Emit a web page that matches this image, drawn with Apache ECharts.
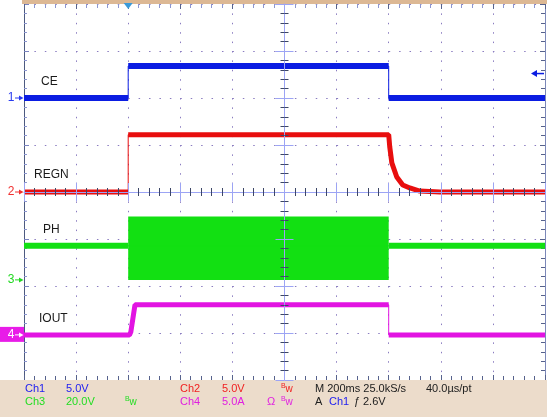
<!DOCTYPE html>
<html><head><meta charset="utf-8">
<script src="https://cdn.jsdelivr.net/npm/echarts@6/dist/echarts.min.js"></script>
<style>html,body{margin:0;padding:0;background:#fff;overflow:hidden}#c{width:547px;height:417px}</style>
</head><body><div id="c"></div>
<script>
// ---- time axis (ms), 200 ms/div, trigger at t = 0
const timeMin = -400, timeMax = 1600, timeStep = 200;
// ---- CE (Ch1, volts)
const ceT = [-400, 0, 0, 1000, 1000, 1600];
const ceV = [0, 0, 3.4, 3.4, 0, 0];
// ---- REGN (Ch2, volts)
const regnT = [-400, 0, 0, 1000, 1004, 1012, 1031, 1054, 1081, 1119, 1196, 1600];
const regnV = [0, 0, 6.1, 6.1, 4.8, 3.1, 1.6, 0.75, 0.43, 0.1, 0, 0];
// ---- PH (Ch3, volts): idle level, and switching window (time span, min/max)
const phT = [-400, 0, 1000, 1600];
const phV = [14.5, 14.5, 14.5, 14.5];
const phSwitchT = [0, 1000];
const phSwitchV = [0, 27];
// ---- IOUT (Ch4, amps)
const ioutT = [-400, 5, 10, 26, 1000, 1000, 1600];
const ioutV = [0, 0, 0.3, 3.2, 3.2, 0, 0];
// ---- scope channel settings
const chNames = ['CE', 'REGN', 'PH', 'IOUT'];
const chScale = [5, 5, 20, 5];          // units per division
const chOffset = [2.0, 0, -1.87, -3.04]; // ground position (divisions)
const chColor = ['#0b1de2', '#e80e0e', '#12e012', '#e214e2'];
const chWidth = [6, 5, 6, 5];
const trigLevel = 2.6; // V on Ch1

const chT = [ceT, regnT, phT, ioutT];
const chV = [ceV, regnV, phV, ioutV];

function toDiv(ch, v) { return chOffset[ch] + v / chScale[ch]; }
function fullData(ch) { return chT[ch].map((t, i) => [t, toDiv(ch, chV[ch][i])]); }
function thickData(ch) {
  const out = [];
  const T = chT[ch], V = chV[ch];
  for (let i = 0; i < T.length; i++) {
    if (i > 0) {
      const vertical = T[i] === T[i - 1];
      const inSwitch = ch === 2 && T[i - 1] >= phSwitchT[0] && T[i] <= phSwitchT[1];
      if (vertical || inSwitch) out.push([T[i], null]);
    }
    out.push([T[i], toDiv(ch, V[i])]);
  }
  return out;
}

const chart = echarts.init(document.getElementById('c'), null, {renderer: 'canvas'});

const tickDark = '#56628c';
const centerLine = '#9ca4f4';
const dotColor = '#8a7cc0';

function xAx(extra) {
  return Object.assign({type: 'value', min: timeMin, max: timeMax, interval: timeStep,
    axisLabel: {show: false}, splitLine: {show: false}}, extra);
}
function yAx(extra) {
  return Object.assign({type: 'value', min: -4, max: 4, interval: 1,
    axisLabel: {show: false}, splitLine: {show: false}}, extra);
}

const series = [];
for (let ch = 0; ch < 4; ch++) {
  series.push({type: 'line', data: fullData(ch), symbol: 'none', silent: true, animation: false,
    lineStyle: {width: 1, color: chColor[ch]}, z: 2});
  const s = {type: 'line', data: thickData(ch), symbol: 'none', silent: true, animation: false,
    connectNulls: false, lineStyle: {width: chWidth[ch], color: chColor[ch], cap: 'butt'}, z: 2};
  if (ch === 2) {
    s.markArea = {silent: true, itemStyle: {color: chColor[2], opacity: 1},
      data: [[{coord: [phSwitchT[0], toDiv(2, phSwitchV[0])]}, {coord: [phSwitchT[1], toDiv(2, phSwitchV[1])]}]]};
  }
  series.push(s);
}

const option = {
  animation: false,
  backgroundColor: '#ffffff',
  grid: {left: 24, right: 2, top: 4, bottom: 37, containLabel: false},
  xAxis: [
    xAx({position: 'bottom', axisLine: {show: true, onZero: false, lineStyle: {color: '#d2aa88'}},
      axisTick: {show: true, inside: true, length: 5, lineStyle: {color: tickDark}},
      minorTick: {show: true, splitNumber: 5, length: 4, lineStyle: {color: tickDark}},
      splitLine: {show: true, lineStyle: {color: dotColor, width: 1, type: [1.5, 7.9]}}}),
    xAx({position: 'top', axisLine: {show: false, onZero: false},
      axisTick: {show: true, inside: true, length: 5, lineStyle: {color: tickDark}},
      minorTick: {show: true, splitNumber: 5, length: 4, lineStyle: {color: '#8c96d0'}}}),
    xAx({position: 'bottom', offset: -188, z: 5, axisLine: {show: true, onZero: false, lineStyle: {color: centerLine, width: 1}},
      axisTick: {show: true, inside: true, length: 9, lineStyle: {color: centerLine}},
      minorTick: {show: true, splitNumber: 5, length: 4, lineStyle: {color: '#3c4668'}}}),
    xAx({position: 'bottom', offset: -188, z: 5, axisLine: {show: false, onZero: false},
      axisTick: {show: true, inside: false, length: 9, lineStyle: {color: centerLine}},
      minorTick: {show: true, splitNumber: 5, length: 4, lineStyle: {color: '#3c4668'}}})
  ],
  yAxis: [
    yAx({position: 'left', axisLine: {show: true, onZero: false, lineStyle: {color: '#4c5a80'}},
      axisTick: {show: true, inside: true, length: 5, lineStyle: {color: '#7a84c0'}},
      minorTick: {show: true, splitNumber: 5, length: 3, lineStyle: {color: '#8c96d0'}},
      splitLine: {show: true, lineStyle: {color: dotColor, width: 1, type: [1.5, 8.92]}}}),
    yAx({position: 'right', axisLine: {show: true, onZero: false, lineStyle: {color: '#7c88b8'}},
      axisTick: {show: true, inside: true, length: 5, lineStyle: {color: tickDark}},
      minorTick: {show: true, splitNumber: 5, length: 4, lineStyle: {color: tickDark}}}),
    yAx({position: 'left', offset: -260.5, z: 5, axisLine: {show: true, onZero: false, lineStyle: {color: centerLine, width: 1}},
      axisTick: {show: true, inside: true, length: 9, lineStyle: {color: centerLine}},
      minorTick: {show: true, splitNumber: 5, length: 4, lineStyle: {color: '#3c4668'}}}),
    yAx({position: 'left', offset: -260.5, z: 5, axisLine: {show: false, onZero: false},
      axisTick: {show: true, inside: false, length: 9, lineStyle: {color: centerLine}},
      minorTick: {show: true, splitNumber: 5, length: 4, lineStyle: {color: '#3c4668'}}})
  ],
  series: series
};
chart.setOption(option);

// ---- decorations positioned through the axes
const yPix = v => chart.convertToPixel({yAxisIndex: 0}, v);
const xPix = t => chart.convertToPixel({xAxisIndex: 0}, t);
const FONT = '"Liberation Sans", Arial, sans-serif';
const g = [];
// top bar and bottom info panel
g.push({type: 'rect', shape: {x: 22, y: 0, width: 525, height: 4}, style: {fill: '#dcb894'}, z: 1});
g.push({type: 'rect', shape: {x: 0, y: 380, width: 547, height: 37}, style: {fill: '#ecdccb'}, z: 1});
// trigger position marker
const tx = xPix(0);
g.push({type: 'polygon', shape: {points: [[tx - 4.5, 3], [tx + 4.5, 3], [tx, 9]]}, style: {fill: '#3a9ad9'}, z: 10});
// trigger level marker on right
const ty = yPix(toDiv(0, trigLevel));
g.push({type: 'line', shape: {x1: 536, y1: ty, x2: 544, y2: ty}, style: {stroke: chColor[0], lineWidth: 1.5}, z: 10});
g.push({type: 'polygon', shape: {points: [[531, ty], [537, ty - 3.5], [537, ty + 3.5]]}, style: {fill: chColor[0]}, z: 10});
// channel ground markers
const markerColors = ['#2a3cf0', '#f03030', '#22d822', '#e020e0'];
for (let ch = 0; ch < 4; ch++) {
  const y = yPix(chOffset[ch]);
  let fg = markerColors[ch];
  if (ch === 3) {
    g.push({type: 'rect', shape: {x: 0, y: y - 8, width: 24, height: 15}, style: {fill: '#e81ce8'}, z: 10});
    fg = '#ffffff';
  }
  g.push({type: 'text', x: 11, y: y, style: {text: String(ch + 1), fill: fg, font: '12px ' + FONT, align: 'center', verticalAlign: 'middle'}, z: 11});
  g.push({type: 'line', shape: {x1: 15, y1: y, x2: 20, y2: y}, style: {stroke: fg, lineWidth: 1}, z: 11});
  g.push({type: 'polygon', shape: {points: [[19, y - 2.5], [23.5, y], [19, y + 2.5]]}, style: {fill: fg}, z: 11});
}
// channel name labels
const nameX = [41, 34, 43, 39];
const nameY = [82, 175, 230, 319];
for (let ch = 0; ch < 4; ch++) {
  g.push({type: 'text', x: nameX[ch], y: nameY[ch], style: {text: chNames[ch], fill: '#1a1a1a', font: '12px ' + FONT, verticalAlign: 'middle'}, z: 11});
}
// info panel texts
const BLUE = '#2020f0', RED = '#f02020', GREEN = '#22dd22', MAG = '#e020e0', DARK = '#202020';
function txt(x, y, s, c) {
  g.push({type: 'text', x: x, y: y, style: {text: s, fill: c, font: '11px ' + FONT, verticalAlign: 'middle'}, z: 12});
}
function bw(x, y, c) {
  g.push({type: 'text', x: x, y: y - 2.5, style: {text: 'B', fill: c, font: '7px ' + FONT, verticalAlign: 'middle'}, z: 12});
  g.push({type: 'text', x: x + 4.5, y: y + 0.5, style: {text: 'w', fill: c, font: '10px ' + FONT, verticalAlign: 'middle'}, z: 12});
}
const r1 = 389, r2 = 402;
txt(25, r1, 'Ch1', BLUE); txt(66, r1, '5.0V', BLUE);
txt(180, r1, 'Ch2', RED); txt(222, r1, '5.0V', RED); bw(281, r1, RED);
txt(315, r1, 'M 200ms 25.0kS/s', DARK); txt(426, r1, '40.0\u00b5s/pt', DARK);
txt(25, r2, 'Ch3', GREEN); txt(66, r2, '20.0V', GREEN); bw(125, r2, GREEN);
txt(180, r2, 'Ch4', MAG); txt(222, r2, '5.0A', MAG);
txt(267, r2, '\u03a9', MAG); bw(281, r2, MAG);
txt(315, r2, 'A', DARK); txt(329, r2, 'Ch1', BLUE); txt(354, r2, '\u0192', DARK); txt(363, r2, '2.6V', DARK);

chart.setOption({graphic: g});
</script></body></html>
